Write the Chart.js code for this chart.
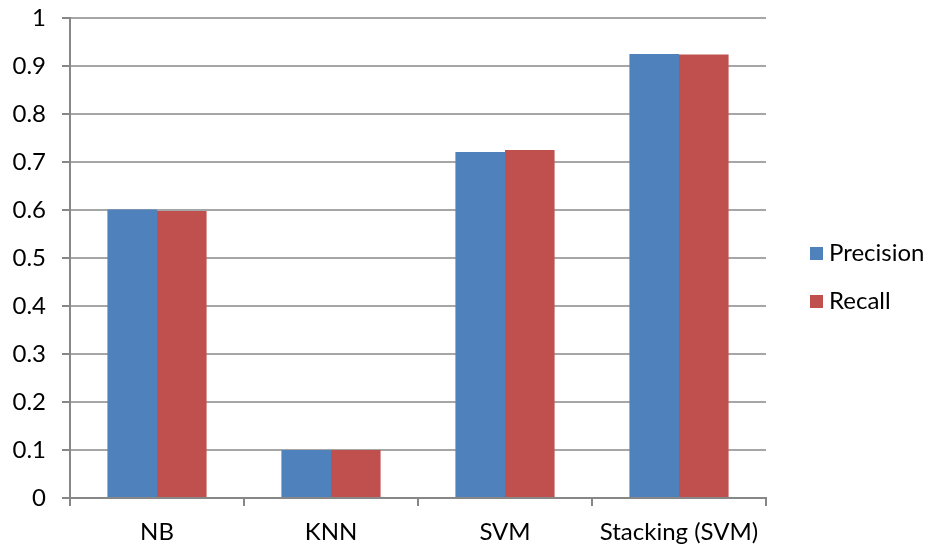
<!DOCTYPE html>
<html>
<head>
<meta charset="utf-8">
<script src="https://cdn.jsdelivr.net/npm/chart.js@4/dist/chart.umd.min.js"></script>
<style>
  html, body { margin: 0; padding: 0; background: #ffffff; }
  #wrap { width: 930px; height: 550px; }
</style>
</head>
<body>
<div id="wrap"><canvas id="c" width="930" height="550"></canvas></div>
<script>
// Classifier comparison: precision and recall per model
const categories = ['NB', 'KNN', 'SVM', 'Stacking (SVM)'];
const precision = [0.601, 0.100, 0.721, 0.925];
const recall = [0.598, 0.100, 0.725, 0.924];
const seriesNames = ['Precision', 'Recall'];
const seriesColors = ['#4f81bd', '#c0504d'];

const FONT = 'Lato, "Open Sans", sans-serif';
const FONT_SIZE = 24;
const AXIS_GREY = '#878787';
const GRID_GREY = '#a6a6a6';

// Legend drawn to the right of the plot, one row per dataset
const sideLegend = {
  id: 'sideLegend',
  afterDraw(chart) {
    const ctx = chart.ctx;
    const x0 = 810;
    const rows = [253, 301];
    ctx.save();
    ctx.font = FONT_SIZE + 'px ' + FONT;
    ctx.textBaseline = 'middle';
    ctx.textAlign = 'left';
    chart.data.datasets.forEach((ds, i) => {
      const y = rows[i];
      ctx.fillStyle = ds.backgroundColor;
      ctx.fillRect(x0, y - 6, 13, 13);
      ctx.fillStyle = '#000000';
      ctx.fillText(ds.label, x0 + 19, y);
    });
    ctx.restore();
  }
};

new Chart(document.getElementById('c'), {
  type: 'bar',
  data: {
    labels: categories,
    datasets: [
      { label: seriesNames[0], data: precision, backgroundColor: seriesColors[0] },
      { label: seriesNames[1], data: recall, backgroundColor: seriesColors[1] }
    ]
  },
  options: {
    responsive: false,
    animation: false,
    devicePixelRatio: 1,
    layout: { padding: { left: 0, right: 164, top: 18, bottom: 0 } },
    datasets: {
      bar: { categoryPercentage: 0.57, barPercentage: 1.0, borderWidth: 0 }
    },
    plugins: {
      legend: { display: false },
      tooltip: { enabled: false }
    },
    scales: {
      x: {
        afterFit(scale) {
          scale.height = 52;
          scale.paddingLeft = 0;
          scale.paddingRight = 0;
        },
        grid: {
          offset: true,
          drawOnChartArea: false,
          drawTicks: true,
          tickLength: 8,
          color: AXIS_GREY,
          lineWidth: 2
        },
        border: { color: AXIS_GREY, width: 2 },
        ticks: {
          color: '#000000',
          font: { family: FONT, size: FONT_SIZE },
          padding: 12,
          maxRotation: 0
        }
      },
      y: {
        min: 0,
        max: 1,
        afterFit(scale) {
          scale.width = 70;
          scale.paddingTop = 0;
          scale.paddingBottom = 0;
        },
        grid: {
          color: GRID_GREY,
          lineWidth: 2,
          drawTicks: true,
          tickLength: 8,
          tickColor: AXIS_GREY
        },
        border: { color: AXIS_GREY, width: 2 },
        ticks: {
          stepSize: 0.1,
          color: '#000000',
          font: { family: FONT, size: FONT_SIZE },
          padding: 16,
          callback: v => String(Math.round(v * 10) / 10)
        }
      }
    }
  },
  plugins: [sideLegend]
});
</script>
</body>
</html>
